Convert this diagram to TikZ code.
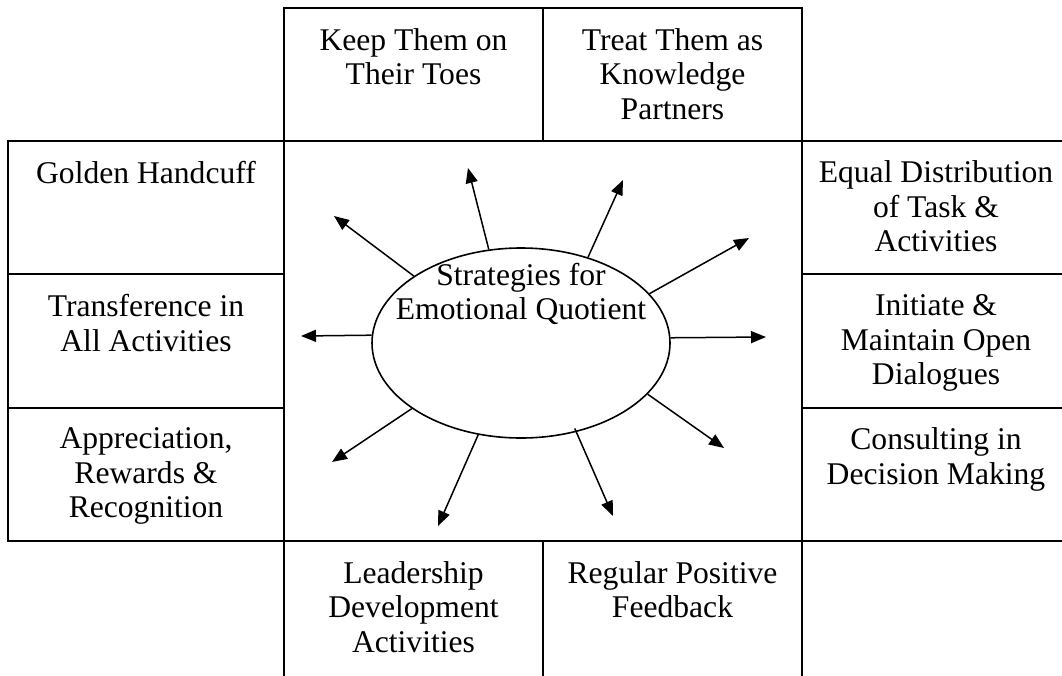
\documentclass[tikz,border=0pt]{standalone}
\usepackage{fontspec}
\setmainfont{Liberation Serif}
\usetikzlibrary{arrows.meta,shapes.geometric}
\begin{document}
\begin{tikzpicture}[x=1pt,y=-1pt,
  cell/.style={draw,line width=1.7pt,rectangle,inner sep=0pt,outer sep=0pt},
  lbl/.style={anchor=north,align=center,inner sep=0pt,font=\fontsize{31.6}{34.5}\selectfont},
  ray/.style={line width=1.5pt,-{Triangle[length=15pt,width=12pt]}}]
\useasboundingbox (0,0) rectangle (1062,675);
% top boxes
\node[cell,minimum width=259pt,minimum height=133pt] (tl) at (413.5,74.5) {};
\node[cell,minimum width=259pt,minimum height=133pt] (tr) at (672.5,74.5) {};
% centre
\node[cell,minimum width=518pt,minimum height=400pt] (ctr) at (543,341) {};
% left boxes
\node[cell,minimum width=276pt,minimum height=133.3pt] (l1) at (146,207.5) {};
\node[cell,minimum width=276pt,minimum height=133.3pt] (l2) at (146,341) {};
\node[cell,minimum width=276pt,minimum height=133.3pt] (l3) at (146,474.5) {};
% right boxes
\node[cell,minimum width=276pt,minimum height=133.3pt] (r1) at (940,207.5) {};
\node[cell,minimum width=276pt,minimum height=133.3pt] (r2) at (940,341) {};
\node[cell,minimum width=276pt,minimum height=133.3pt] (r3) at (940,474.5) {};
% bottom boxes
\node[cell,minimum width=259pt,minimum height=150pt] (bl) at (413.5,616) {};
\node[cell,minimum width=259pt,minimum height=150pt] (br) at (672.5,616) {};
% texts
\node[lbl] (tltext) at ([yshift=-20pt]tl.north) {Keep Them on\\Their Toes};
\node[lbl] (trtext) at ([yshift=-20pt]tr.north) {Treat Them as\\Knowledge\\Partners};
\node[lbl] (l1text) at ([yshift=-20pt]l1.north) {Golden Handcuff};
\node[lbl] (l2text) at ([yshift=-20pt]l2.north) {Transference in\\All Activities};
\node[lbl] (l3text) at ([yshift=-20pt]l3.north) {Appreciation,\\Rewards \&\\Recognition};
\node[lbl] (r1text) at ([yshift=-20pt,xshift=-4pt]r1.north) {Equal Distribution\\of Task \&\\Activities};
\node[lbl] (r2text) at ([yshift=-20pt,xshift=-4pt]r2.north) {Initiate \&\\Maintain Open\\Dialogues};
\node[lbl] (r3text) at ([yshift=-20pt,xshift=-4pt]r3.north) {Consulting in\\Decision Making};
\node[lbl] (bltext) at ([yshift=-20pt]bl.north) {Leadership\\Development\\Activities};
\node[lbl] (brtext) at ([yshift=-20pt]br.north) {Regular Positive\\Feedback};
% ellipse
\node[draw,ellipse,line width=1.6pt,minimum width=298pt,minimum height=190pt,inner sep=0pt] (eq) at (521,343) {};
\node[lbl] (eqtext) at (521,263) {Strategies for\\Emotional Quotient};
% arrow tips
\coordinate (t1) at (334,216);
\coordinate (t2) at (468,168);
\coordinate (t3) at (623,180);
\coordinate (t4) at (749,238);
\coordinate (t5) at (766,337);
\coordinate (t6) at (301,336);
\coordinate (t7) at (332,462);
\coordinate (t8) at (438,526);
\coordinate (t9) at (613,516);
\coordinate (t10) at (724,448);
\draw[ray] (eq.148) -- (t1);
\draw[ray] (eq.109) -- (t2);
\draw[ray] (eq.52) -- (t3);
\draw[ray] (eq.21) -- (t4);
\draw[ray] (eq.2.3) -- (t5);
\draw[ray] (eq.177.7) -- (t6);
\draw[ray] (eq.211) -- (t7);
\draw[ray] (eq.245) -- (t8);
\draw[ray] ([yshift=4pt]eq.301) -- (t9);
\draw[ray] (eq.338) -- (t10);
\end{tikzpicture}
\end{document}
